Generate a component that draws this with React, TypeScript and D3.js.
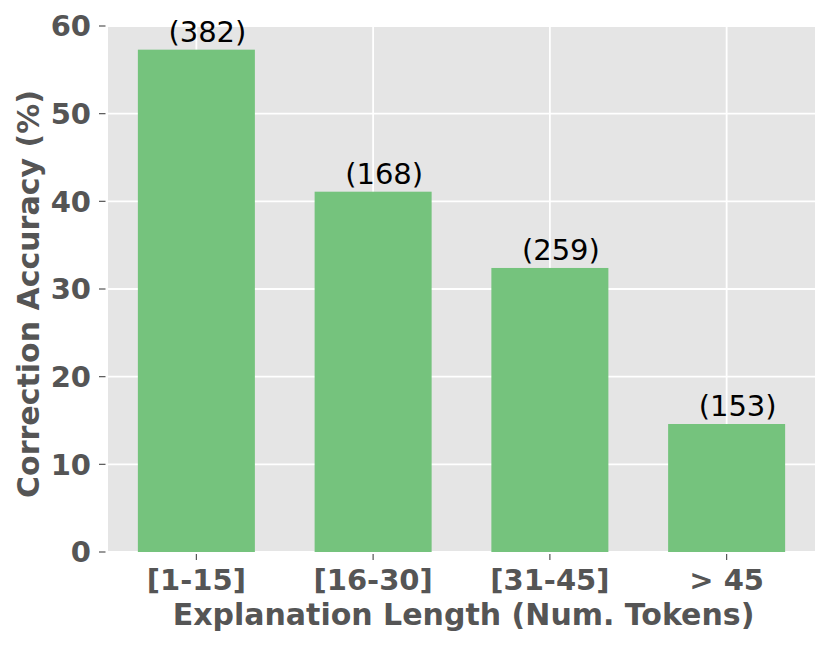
import React from 'react';
import * as d3 from 'd3';

// data
const categories = ['[1-15]', '[16-30]', '[31-45]', '> 45'];
const accuracy = [57.3, 41.1, 32.4, 14.6];
const counts = ['(382)', '(168)', '(259)', '(153)'];
const yTicks = [0, 10, 20, 30, 40, 50, 60];

const W = 831;
const H = 647;
const margin = { top: 26, right: 16, bottom: 95, left: 108 };
const font = 'DejaVu Sans, sans-serif';

export default function App() {
  const innerW = W - margin.left - margin.right;
  const innerH = H - margin.top - margin.bottom;

  const x = d3
    .scaleBand()
    .domain(categories)
    .range([margin.left, margin.left + innerW])
    .paddingInner(0.338)
    .paddingOuter(0.169);

  const y = d3
    .scaleLinear()
    .domain([0, 60])
    .range([margin.top + innerH, margin.top]);

  const bottom = y(0);

  return (
    <svg
      width={W}
      height={H}
      style={{ position: 'absolute', left: 0, top: 0, background: '#fff' }}
    >
      {/* plot background */}
      <rect
        x={margin.left}
        y={margin.top}
        width={innerW}
        height={innerH}
        fill="#e5e5e5"
      />

      {/* grid */}
      {yTicks.map((t) => (
        <line
          key={'gy' + t}
          x1={margin.left}
          x2={margin.left + innerW}
          y1={y(t)}
          y2={y(t)}
          stroke="#fff"
          strokeWidth={1.8}
        />
      ))}
      {categories.map((c) => {
        const cx = x(c)! + x.bandwidth() / 2;
        return (
          <line
            key={'gx' + c}
            x1={cx}
            x2={cx}
            y1={margin.top}
            y2={bottom}
            stroke="#fff"
            strokeWidth={1.8}
          />
        );
      })}

      {/* bars */}
      {categories.map((c, i) => (
        <rect
          key={'bar' + c}
          x={x(c)}
          y={y(accuracy[i])}
          width={x.bandwidth()}
          height={bottom - y(accuracy[i])}
          fill="#75c37d"
        />
      ))}

      {/* count labels */}
      {categories.map((c, i) => (
        <text
          key={'lab' + c}
          x={x(c)! + x.bandwidth() / 2 + 11}
          y={y(accuracy[i]) - 8}
          textAnchor="middle"
          fontFamily={font}
          fontSize={29}
          fill="#000"
        >
          {counts[i]}
        </text>
      ))}

      {/* y ticks */}
      {yTicks.map((t) => (
        <g key={'yt' + t}>
          <line
            x1={99}
            x2={105.5}
            y1={y(t)}
            y2={y(t)}
            stroke="#555"
            strokeWidth={1.2}
          />
          <text
            x={91}
            y={y(t)}
            dy="0.36em"
            textAnchor="end"
            fontFamily={font}
            fontWeight="bold"
            fontSize={29}
            fill="#555"
          >
            {t}
          </text>
        </g>
      ))}

      {/* x ticks */}
      {categories.map((c) => {
        const cx = x(c)! + x.bandwidth() / 2;
        return (
          <g key={'xt' + c}>
            <line
              x1={cx}
              x2={cx}
              y1={554}
              y2={560}
              stroke="#555"
              strokeWidth={1.2}
            />
            <text
              x={cx}
              y={590}
              textAnchor="middle"
              fontFamily={font}
              fontWeight="bold"
              fontSize={29}
              fill="#555"
            >
              {c}
            </text>
          </g>
        );
      })}

      {/* axis titles */}
      <text
        x={margin.left + innerW / 2 + 2}
        y={625}
        textAnchor="middle"
        fontFamily={font}
        fontWeight="bold"
        fontSize={30}
        fill="#555"
      >
        Explanation Length (Num. Tokens)
      </text>
      <text
        transform={`translate(39,${margin.top + innerH / 2 + 5}) rotate(-90)`}
        textAnchor="middle"
        fontFamily={font}
        fontWeight="bold"
        fontSize={30}
        fill="#555"
      >
        Correction Accuracy (%)
      </text>
    </svg>
  );
}
